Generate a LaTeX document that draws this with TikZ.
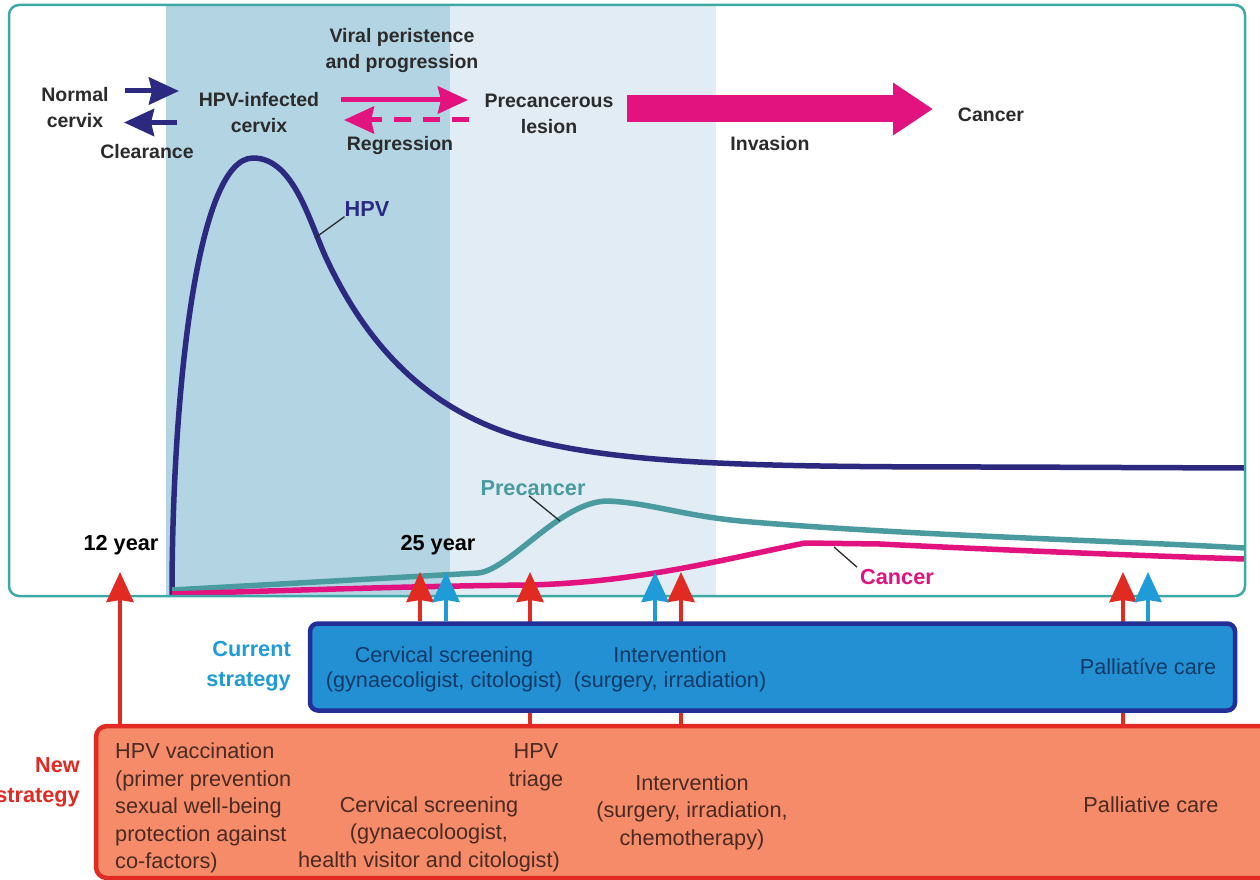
\documentclass[tikz,border=0pt]{standalone}
\usepackage{fontspec}
\setmainfont{Liberation Sans}
\usetikzlibrary{arrows.meta,backgrounds}
\definecolor{navy}{HTML}{2B2A80}
\definecolor{pinkc}{HTML}{E2127F}
\definecolor{tealc}{HTML}{4A9BA0}
\definecolor{framec}{HTML}{3DA9A6}
\definecolor{shadeA}{HTML}{B3D5E3}
\definecolor{shadeB}{HTML}{E1ECF4}
\definecolor{blueF}{HTML}{2290D2}
\definecolor{blueB}{HTML}{232F98}
\definecolor{blueT}{HTML}{1F9BD7}
\definecolor{orangeF}{HTML}{F58B69}
\definecolor{redc}{HTML}{E02A22}
\definecolor{inkc}{HTML}{2B2B2B}
\definecolor{inkb}{HTML}{123A68}
\definecolor{inko}{HTML}{4A2A22}
\tikzset{
 toplabel/.style={font=\fontsize{19.5}{26}\selectfont\bfseries,text=inkc,align=center,inner sep=0pt},
 biglabel/.style={font=\fontsize{21.7}{30}\selectfont\bfseries,align=center,inner sep=0pt},
 boxtext/.style={font=\fontsize{21.7}{25.5}\selectfont,align=center,inner sep=0pt},
 newtext/.style={font=\fontsize{21.7}{27.5}\selectfont,align=center,inner sep=0pt,text=inko},
 curve/.style={line width=5.5pt,line join=round},
 leader/.style={line width=1.3pt,draw=inkc},
 navyarrow/.style={navy,line width=5pt,-{Stealth[length=30pt,width=27pt,inset=3pt]}},
 pinkarrow/.style={pinkc,line width=5pt,-{Stealth[length=30pt,width=27pt,inset=3pt]}},
 redarrow/.style={redc,line width=4pt,-{Stealth[length=30pt,width=27pt,inset=2pt]}},
 bluearrow/.style={blueT,line width=4pt,-{Stealth[length=30pt,width=27pt,inset=2pt]}},
}
\begin{document}
\begin{tikzpicture}[x=1pt,y=-1pt]
\useasboundingbox (0,0) rectangle (1260,880);
% boxes
\node[draw=redc,fill=orangeF,line width=4.5pt,rounded corners=11pt,minimum width=1240pt,minimum height=152pt,inner sep=0pt] (newbox) at (716,802) {};
\node[draw=blueB,fill=blueF,line width=4.5pt,rounded corners=8pt,minimum width=925pt,minimum height=87pt,inner sep=0pt] (curbox) at (772.5,667) {};
% top labels
\node[toplabel] (normal) at (75,107.5) {Normal\\cervix};
\node[toplabel] (clear) at (147,151.5) {Clearance};
\node[toplabel] (infected) at (259,113) {HPV-infected\\cervix};
\node[toplabel] (viral) at (402,51) {Viral peristence\\and progression};
\node[toplabel] (regr) at (400,146) {Regression};
\node[toplabel] (precl) at (549,113.5) {Precancerous\\lesion};
\node[toplabel] (inv) at (770,144) {Invasion};
\node[toplabel] (cancerT) at (991,115) {Cancer};
\node[biglabel,text=navy] (hpvl) at (367,209) {HPV};
\node[biglabel,text=tealc] (prel) at (533,488) {Precancer};
\node[biglabel,text=pinkc] (canl) at (897,577) {Cancer};
\node[biglabel,text=black] (y12) at (121,545) {12 year};
\node[biglabel,text=black] (y25) at (438,545) {25 year};
% strategy labels
\node[biglabel,text=blueT,align=right,anchor=east] (curl) at (291,666) {Current\\strategy};
\node[biglabel,text=redc,align=right,anchor=east] (newl) at (80,782) {New\\strategy};
% box texts
\node[boxtext,text=inkb] (c1) at (444,669.5) {Cervical screening\\(gynaecoligist, citologist)};
\node[boxtext,text=inkb] (c2) at (670,669.5) {Intervention\\(surgery, irradiation)};
\node[boxtext,text=inkb] (c3) at (1148,667) {Palliatíve care};
\node[newtext,align=left,anchor=north west] (n1) at (115,743) {HPV vaccination\\(primer prevention\\sexual well-being\\protection against\\co-factors)};
\node[newtext] (n2) at (536,767.5) {HPV\\triage};
\node[newtext] (n3) at (429,834) {Cervical screening\\(gynaecoloogist,\\health visitor and citologist)};
\node[newtext] (n4) at (692,812) {Intervention\\(surgery, irradiation,\\chemotherapy)};
\node[newtext] (n5) at (1151,805) {Palliative care};
% connector ends
\coordinate (t120) at (120,572);
\coordinate (t420) at (420,572);
\coordinate (t446) at (446,572);
\coordinate (t530) at (530,572);
\coordinate (t655) at (655,572);
\coordinate (t681) at (681,572);
\coordinate (t1123) at (1123,572);
\coordinate (t1148) at (1148,572);
\coordinate (a1) at (125,91);
\coordinate (a2) at (179,91);
\coordinate (b1) at (177,122.5);
\coordinate (b2) at (124,122.5);
\coordinate (c1s) at (341,100);
\coordinate (c1e) at (468,100);
\coordinate (d1s) at (469,120);
\coordinate (d1e) at (344,120);
\coordinate (e1s) at (627,109);
\coordinate (e1e) at (933,109);
\coordinate (hpvc) at (315,238);
\coordinate (prec) at (560,521);
\coordinate (canc) at (834,547);
\begin{scope}[on background layer]
\fill[white] (0,0) rectangle (1260,880);
\fill[shadeA] (166,6) rectangle (450,595);
\fill[shadeB] (450,6) rectangle (716,595);
% curves
\draw[curve,navy] (172,596) .. controls (172,400) and (196,158) .. (253,158)
  .. controls (295,158) and (310,225) .. (328,262)
  .. controls (370,350) and (430,410) .. (520,437)
  .. controls (620,465) and (760,467) .. (1000,467) -- (1245,468);
\draw[curve,tealc] (172,590) -- (478,573) .. controls (510,570) and (560,501) .. (608,501)
  .. controls (650,503) and (680,515) .. (740,521)
  .. controls (900,535) and (1100,540) .. (1245,548);
\draw[curve,pinkc] (172,594) .. controls (300,590) and (420,586) .. (530,585)
  .. controls (640,582) and (720,560) .. (805,543)
  -- (880,544) .. controls (1000,550) and (1150,556) .. (1245,559);
\draw[framec,line width=2.5pt,rounded corners=10pt] (9,5) rectangle (1245,596);
% leaders
\draw[leader] (hpvl.south west) -- (hpvc);
\draw[leader] (prel.south) ++(-4,0) -- (prec);
\draw[leader] (canl.north west) ++(-3,-2) -- (canc);
% arrows
\draw[redarrow] (newbox.north -| t120) -- (t120);
\draw[redarrow] (newbox.north -| t530) -- (t530);
\draw[redarrow] (newbox.north -| t681) -- (t681);
\draw[redarrow] (newbox.north -| t1123) -- (t1123);
\draw[redarrow] (curbox.north -| t420) -- (t420);
\draw[bluearrow] (curbox.north -| t446) -- (t446);
\draw[bluearrow] (curbox.north -| t655) -- (t655);
\draw[bluearrow] (curbox.north -| t1148) -- (t1148);
\draw[navyarrow] (a1) -- (a2);
\draw[navyarrow] (b1) -- (b2);
\draw[pinkarrow] (c1s) -- (c1e);
\draw[pinkarrow,dash pattern=on 17pt off 12pt] (d1s) -- (d1e);
\draw[pinkc,line width=27pt,-{Triangle[length=40pt,width=50pt]}] (e1s) -- (e1e);
\end{scope}
\end{tikzpicture}
\end{document}
